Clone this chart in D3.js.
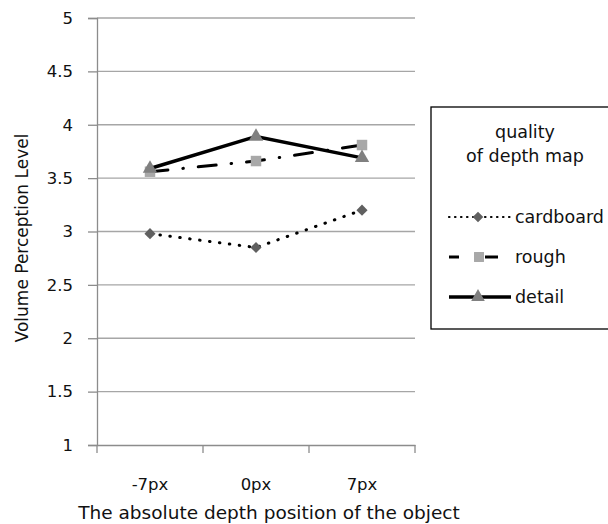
<!DOCTYPE html>
<html>
<head>
<meta charset="utf-8">
<script src="https://cdn.jsdelivr.net/npm/d3@7"></script>
<style>
  body { margin: 0; background: #fff; overflow: hidden; }
  text { font-family: "DejaVu Sans", sans-serif; fill: #111; }
</style>
</head>
<body>
<div id="chart"></div>
<script>
var categories = ['-7px', '0px', '7px'];
var cardboard = [2.98, 2.85, 3.2];
var rough = [3.56, 3.66, 3.81];
var detail = [3.59, 3.89, 3.69];
var yTicks = [1, 1.5, 2, 2.5, 3, 3.5, 4, 4.5, 5];

// diamond drawn as a square turned 45 degrees, as the reference marker
var wideDiamond = {
    draw: function (context, size) {
        var r = Math.sqrt(size / 2);
        context.moveTo(0, -r);
        context.lineTo(r, 0);
        context.lineTo(0, r);
        context.lineTo(-r, 0);
        context.closePath();
    }
};

var series = [
    {name: 'cardboard', values: cardboard, dash: '0.5,9.5', width: 3, cap: 'round', shape: wideDiamond, size: 62, fill: '#606060'},
    {name: 'rough', values: rough, dash: '18,15,0.5,15', width: 3, cap: 'round', shape: d3.symbolSquare, size: 110, fill: '#a8a8a8'},
    {name: 'detail', values: detail, dash: null, width: 3.5, cap: 'butt', shape: d3.symbolTriangle, size: 90, fill: '#808080'}
];

var svg = d3.select('#chart').append('svg')
    .attr('width', 608)
    .attr('height', 524);

var plotLeft = 97, plotRight = 415, plotTop = 18, plotBottom = 445;

var x = d3.scaleBand().domain(categories).range([plotLeft, plotRight]);
var y = d3.scaleLinear().domain([1, 5]).range([plotBottom, plotTop]);

// gridlines
svg.append('g')
    .selectAll('line')
    .data(yTicks.slice(1))
    .enter().append('line')
    .attr('x1', plotLeft).attr('x2', plotRight)
    .attr('y1', function (d) { return y(d); })
    .attr('y2', function (d) { return y(d); })
    .style('stroke', '#a6a6a6')
    .style('stroke-width', 1.3);

// y axis
var yAxis = svg.append('g')
    .attr('transform', 'translate(' + plotLeft + ',0)')
    .call(d3.axisLeft(y).tickValues(yTicks).tickSize(9).tickPadding(15)
        .tickFormat(function (d) { return d; }));
yAxis.selectAll('line, path').style('stroke', '#8c8c8c').style('stroke-width', 1.3);
yAxis.selectAll('text').style('font-size', '16.5px').style('font-family', '"DejaVu Sans", sans-serif').style('fill', '#111');

// x axis
var xAxis = svg.append('g')
    .attr('transform', 'translate(0,' + plotBottom + ')')
    .call(d3.axisBottom(x).tickSize(0).tickPadding(33));
xAxis.select('path').style('stroke', '#8c8c8c').style('stroke-width', 1.3);
xAxis.selectAll('text').style('font-size', '16.5px').style('font-family', '"DejaVu Sans", sans-serif').style('fill', '#111');

// x boundary ticks
var bounds = categories.map(function (c) { return x(c); }).concat([plotRight]);
svg.append('g').selectAll('line')
    .data(bounds)
    .enter().append('line')
    .attr('x1', function (d) { return d; })
    .attr('x2', function (d) { return d; })
    .attr('y1', plotBottom)
    .attr('y2', plotBottom + 8)
    .style('stroke', '#8c8c8c')
    .style('stroke-width', 1.3);

// axis titles
svg.append('text')
    .attr('transform', 'translate(22,' + 238 + ') rotate(-90)')
    .attr('text-anchor', 'middle')
    .attr('dy', '0.35em')
    .style('font-size', '17px')
    .text('Volume Perception Level');

svg.append('text')
    .attr('x', 269)
    .attr('y', 519)
    .attr('text-anchor', 'middle')
    .style('font-size', '18.5px')
    .text('The absolute depth position of the object');

var cx = function (i) { return x(categories[i]) + x.bandwidth() / 2; };

var line = d3.line()
    .x(function (d, i) { return cx(i); })
    .y(function (d) { return y(d); });

series.forEach(function (s) {
    svg.append('path')
        .datum(s.values)
        .attr('d', line)
        .style('fill', 'none')
        .style('stroke', '#000')
        .style('stroke-width', s.width)
        .style('stroke-linecap', s.cap)
        .style('stroke-dasharray', s.dash);
    svg.append('g').selectAll('path')
        .data(s.values)
        .enter().append('path')
        .attr('transform', function (d, i) { return 'translate(' + cx(i) + ',' + y(d) + ')'; })
        .attr('d', d3.symbol().type(s.shape).size(s.size))
        .style('fill', s.fill);
});

// legend
var lg = svg.append('g');
lg.append('rect')
    .attr('x', 431).attr('y', 107)
    .attr('width', 190).attr('height', 222)
    .style('fill', '#fff')
    .style('stroke', '#000')
    .style('stroke-width', 1.3);

lg.append('text').attr('x', 525).attr('y', 138).attr('text-anchor', 'middle')
    .style('font-size', '17.5px').text('quality');
lg.append('text').attr('x', 525).attr('y', 162).attr('text-anchor', 'middle')
    .style('font-size', '17.5px').text('of depth map');

var legendDash = ['0.5,5.5', '10,26,13,200', null];
var legendEnd = [511, 498, 511];

series.forEach(function (s, i) {
    var ly = 217 + i * 40;
    lg.append('line')
        .attr('x1', 449).attr('x2', legendEnd[i])
        .attr('y1', ly).attr('y2', ly)
        .style('stroke', '#000')
        .style('stroke-width', i === 0 ? 2.2 : s.width)
        .style('stroke-linecap', i === 0 ? 'round' : 'butt')
        .style('stroke-dasharray', legendDash[i]);
    lg.append('path')
        .attr('transform', 'translate(' + (i === 1 ? 479 : 478) + ',' + ly + ')')
        .attr('d', d3.symbol().type(s.shape).size(s.size * 0.9))
        .style('fill', s.fill);
    lg.append('text')
        .attr('x', 515).attr('y', ly)
        .attr('dy', '0.35em')
        .style('font-size', '17.5px')
        .text(s.name);
});
</script>
</body>
</html>
